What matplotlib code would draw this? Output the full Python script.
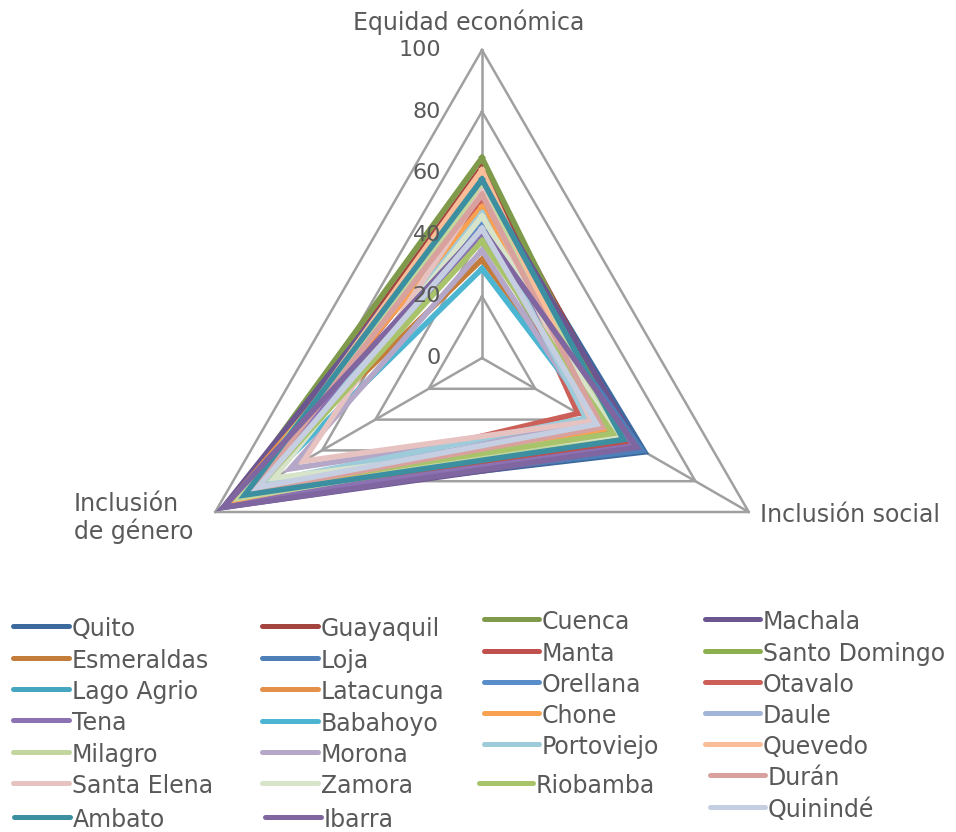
import numpy as np
import matplotlib
matplotlib.use("Agg")
import matplotlib.pyplot as plt
from matplotlib.lines import Line2D
from matplotlib.transforms import offset_copy

# ejes del radar
ejes = ["Equidad económica", "Inclusión social", "Inclusión de género"]

ciudades = ["Quito", "Guayaquil", "Cuenca", "Machala", "Esmeraldas", "Loja",
            "Manta", "Santo Domingo", "Lago Agrio", "Latacunga", "Orellana",
            "Otavalo", "Tena", "Babahoyo", "Chone", "Daule", "Milagro", "Morona",
            "Portoviejo", "Quevedo", "Santa Elena", "Zamora", "Riobamba", "Durán",
            "Ambato", "Ibarra", "Quinindé"]

equidad = [57, 62, 65, 57, 32, 43, 50, 39, 52, 48, 44, 51, 40, 29, 49, 42,
           55, 35, 47, 61, 54, 46, 38, 53, 58, 42, 42]
social = [61, 56, 52, 59, 48, 60, 54, 51, 50, 47, 49, 36, 57, 45, 46, 43,
          50, 42, 39, 44, 41, 50, 49, 45, 53, 58, 43]
genero = [92, 90, 94, 97, 95, 91, 89, 90, 88, 96, 85, 86, 93, 83, 92, 82,
          91, 72, 80, 87, 67, 78, 84, 86, 89, 97, 84]

colores = ["#3D6A9E", "#A4443F", "#7E9A4A", "#6B5690", "#C47C3A", "#4F7FB8",
           "#C0504D", "#8DB04E", "#46A6BF", "#E5904A", "#5A8ECB", "#CC5F58",
           "#8C72B3", "#4CB6D2", "#F8A150", "#A1B5D9", "#C2D69E", "#B4A7C8",
           "#9DCBDA", "#F9BE98", "#E6C2C1", "#D8E4CA", "#A9C36B", "#D9A19E",
           "#3C8FA0", "#7F66A0", "#C6CEE2"]

W, H = 956, 832
gris = "#A0A0A0"
texto = "#595959"

fig = plt.figure(figsize=(W / 100, H / 100), dpi=100)
cx, cy, R = 482, 358, 308
ax = fig.add_axes([(cx - R) / W, (H - cy - R) / H, 2 * R / W, 2 * R / H],
                  projection="polar")
ax.set_theta_zero_location("N")
ax.set_theta_direction(-1)
ax.set_ylim(0, 100)
ax.axis("off")

ang = np.linspace(0, 2 * np.pi, 3, endpoint=False)
ang_c = np.append(ang, ang[0])

# rejilla triangular
for v in [20, 40, 60, 80, 100]:
    ax.plot(ang_c, [v] * 4, color=gris, lw=1.8, clip_on=False, zorder=1)
for a in ang:
    ax.plot([a, a], [0, 100], color=gris, lw=1.8, clip_on=False, zorder=1)

# etiquetas de valores
tr = offset_copy(ax.transData, fig=fig, x=-41, y=0, units="dots")
for v in [0, 20, 40, 60, 80, 100]:
    ax.text(0, v, str(v), transform=tr, ha="right", va="center",
            fontsize=16, color=texto)

# series
for i, c in enumerate(ciudades):
    vals = [equidad[i], social[i], genero[i]]
    ax.plot(ang_c, vals + [vals[0]], color=colores[i], lw=4,
            solid_joinstyle="miter", clip_on=False, zorder=2)

fig.text(469 / W, 1 - 22 / H, ejes[0], ha="center", va="center",
         fontsize=17, color=texto)
fig.text(760 / W, 1 - 515 / H, ejes[1], ha="left", va="center",
         fontsize=17, color=texto)
fig.text(74 / W, 1 - 518 / H, "Inclusión\nde género", ha="left", va="center",
         fontsize=17, color=texto, linespacing=1.1)

# leyenda manual: (x inicio línea, x fin línea, y)
pos_leyenda = {
    "Quito": (13, 69, 626), "Esmeraldas": (13, 69, 658),
    "Lago Agrio": (13, 69, 689), "Tena": (13, 69, 720),
    "Milagro": (13, 69, 752), "Santa Elena": (13, 69, 783),
    "Ambato": (14, 70, 817),
    "Guayaquil": (262, 318, 626), "Loja": (262, 318, 658),
    "Latacunga": (262, 318, 689), "Babahoyo": (262, 318, 721),
    "Morona": (262, 318, 752), "Zamora": (262, 318, 783),
    "Ibarra": (265, 321, 817),
    "Cuenca": (484, 539, 619), "Manta": (484, 539, 651),
    "Orellana": (484, 539, 682), "Chone": (484, 539, 713),
    "Portoviejo": (484, 539, 744), "Riobamba": (479, 533, 783),
    "Machala": (705, 760, 619), "Santo Domingo": (705, 760, 651),
    "Otavalo": (705, 760, 682), "Daule": (705, 760, 713),
    "Quevedo": (705, 760, 744), "Durán": (710, 765, 775),
    "Quinindé": (710, 765, 807),
}
for i, c in enumerate(ciudades):
    x0, x1, y = pos_leyenda[c]
    fig.add_artist(Line2D([x0 / W, x1 / W], [1 - y / H] * 2, color=colores[i],
                          lw=3.6, solid_capstyle="round",
                          transform=fig.transFigure))
    fig.text((x1 + 3) / W, 1 - (y + 3) / H, c, ha="left", va="center",
             fontsize=17, color=texto)

fig.savefig("out.png", dpi=100)
